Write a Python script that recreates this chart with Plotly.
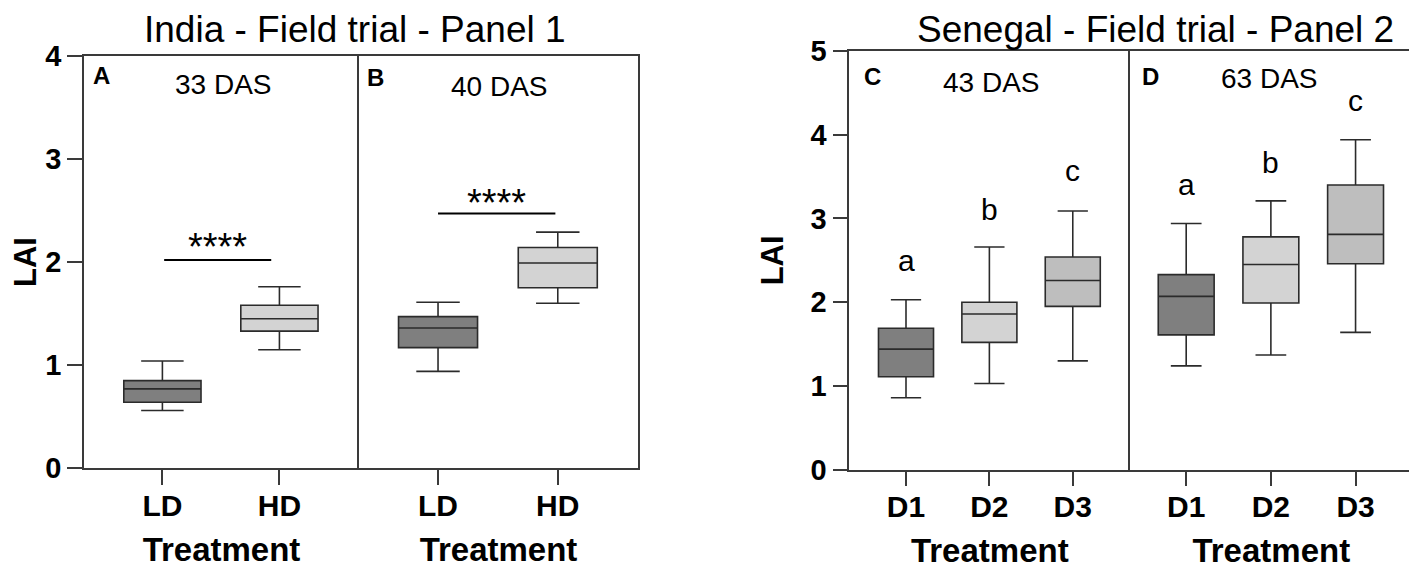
import plotly.graph_objects as go

# LAI box summaries (whisker low, Q1, median, Q3, whisker high)
india_groups = ["LD", "HD"]
a_low = [0.56, 1.15]
a_q1 = [0.64, 1.33]
a_med = [0.77, 1.45]
a_q3 = [0.85, 1.58]
a_high = [1.04, 1.76]

b_low = [0.94, 1.60]
b_q1 = [1.17, 1.75]
b_med = [1.36, 1.99]
b_q3 = [1.47, 2.14]
b_high = [1.61, 2.29]

senegal_groups = ["D1", "D2", "D3"]
c_low = [0.86, 1.03, 1.30]
c_q1 = [1.11, 1.52, 1.95]
c_med = [1.44, 1.86, 2.26]
c_q3 = [1.69, 2.00, 2.54]
c_high = [2.03, 2.66, 3.09]

d_low = [1.24, 1.37, 1.64]
d_q1 = [1.61, 1.99, 2.46]
d_med = [2.07, 2.45, 2.81]
d_q3 = [2.33, 2.78, 3.40]
d_high = [2.94, 3.21, 3.94]

# significance / letter labels
sig_text = ["****", "****"]
sig_bar_y = [2.02, 2.47]
sig_text_y = [2.15, 2.57]
letters = ["a", "b", "c"]
c_letter_y = [2.50, 3.11, 3.57]
d_letter_y = [3.41, 3.67, 4.41]

panel_tags = ["A", "B", "C", "D"]
panel_days = ["33 DAS", "40 DAS", "43 DAS", "63 DAS"]

fill = {"LD": "#7f7f7f", "HD": "#d3d3d3", "D1": "#7f7f7f", "D2": "#d3d3d3", "D3": "#bebebe"}
edge = "#2b2b2b"
axcol = "#3a3a3a"
FONT = "Liberation Sans, Arial, sans-serif"

# page body has an 8px margin, so the figure is offset inside the window
OFF = 8
W, H = 1417 - OFF, 569 - OFF


def px_x(p):
    return (p - OFF) / W


def px_y(p):
    return 1 - (p - OFF) / H


fig = go.Figure()


def add_boxes(groups, lo, q1, med, q3, hi, ax):
    for i, g in enumerate(groups):
        fig.add_trace(go.Box(
            x=[g], lowerfence=[lo[i]], q1=[q1[i]], median=[med[i]], q3=[q3[i]], upperfence=[hi[i]],
            fillcolor=fill[g], line=dict(color=edge, width=1.6),
            width=0.66, whiskerwidth=0.55, boxpoints=False, showlegend=False,
            xaxis="x" + ax, yaxis="y" + ax,
        ))


add_boxes(india_groups, a_low, a_q1, a_med, a_q3, a_high, "")
add_boxes(india_groups, b_low, b_q1, b_med, b_q3, b_high, "2")
add_boxes(senegal_groups, c_low, c_q1, c_med, c_q3, c_high, "3")
add_boxes(senegal_groups, d_low, d_q1, d_med, d_q3, d_high, "4")


def xaxis(dom, cats, rng, anchor):
    return dict(
        domain=dom, anchor=anchor, type="category", categoryorder="array", categoryarray=cats,
        range=rng, showline=True, mirror=True, linecolor=axcol, linewidth=1.5,
        ticks="outside", ticklen=15, tickwidth=1.5, tickcolor=axcol, ticklabelstandoff=-5,
        tickfont=dict(family=FONT, size=30, color="black", weight="bold"),
        title=dict(text="Treatment", font=dict(family=FONT, size=33, color="black", weight="bold"), standoff=17),
        showgrid=False, zeroline=False, fixedrange=True, automargin=False,
    )


def yaxis(dom, rng, anchor, labelled):
    d = dict(
        domain=dom, anchor=anchor, range=rng, showline=True,
        linecolor=axcol, linewidth=1.5, showgrid=False, zeroline=False, fixedrange=True,
        automargin=False,
    )
    if labelled:
        d.update(
            mirror=False,
            ticks="outside", ticklen=15, tickwidth=1.5, tickcolor=axcol, dtick=1, tick0=0,
            tickfont=dict(family=FONT, size=29, color="black", weight="bold"),
            title=dict(text="LAI", font=dict(family=FONT, size=31, color="black", weight="bold"), standoff=18),
        )
    else:
        d.update(mirror=True, ticks="", showticklabels=False)
    return d


left_y = [px_y(468.3), px_y(55.7)]
right_y = [px_y(469.7), px_y(51)]

fig.update_layout(
    width=W, height=H, margin=dict(l=0, r=0, t=0, b=0, autoexpand=False),
    paper_bgcolor="white", plot_bgcolor="white", showlegend=False,
    font=dict(family=FONT, color="black"),
    boxmode="overlay",
    xaxis=xaxis([px_x(84), px_x(359)], india_groups, [-0.67, 1.68], "y"),
    xaxis2=xaxis([px_x(359), px_x(638)], india_groups, [-0.66, 1.67], "y2"),
    xaxis3=xaxis([px_x(849.3), px_x(1130.3)], senegal_groups, [-0.68, 2.69], "y3"),
    xaxis4=xaxis([px_x(1130.3), px_x(1412.3)], senegal_groups, [-0.66, 2.67], "y4"),
    yaxis=yaxis(left_y, [0, 4], "x", True),
    yaxis2=yaxis(left_y, [0, 4], "x2", False),
    yaxis3=yaxis(right_y, [0, 5], "x3", True),
    yaxis4=yaxis(right_y, [0, 5], "x4", False),
)

# significance bars (panel 1)
for k, (ax, x0, x1) in enumerate([("", 0.015, 0.93), ("2", 0.0, 0.98)]):
    fig.add_shape(type="line", xref="x" + ax, yref="y" + ax, x0=x0, x1=x1,
                  y0=sig_bar_y[k], y1=sig_bar_y[k], line=dict(color="black", width=2))
    fig.add_annotation(xref="x" + ax, yref="y" + ax, x=(x0 + x1) / 2, y=sig_text_y[k],
                       text=sig_text[k], showarrow=False, font=dict(size=38, color="black"))

# letters (panel 2)
for ax, ys in [("3", c_letter_y), ("4", d_letter_y)]:
    for i, g in enumerate(senegal_groups):
        fig.add_annotation(xref="x" + ax, yref="y" + ax, x=i, y=ys[i], text=letters[i],
                           showarrow=False, font=dict(size=30, color="black"))

# panel tags and day labels
tag_pos = [(0.024, 0.953), (0.0215, 0.947), (0.044, 0.939), (0.034, 0.939)]
day_pos = [(0.507, 0.929), (0.505, 0.925), (0.507, 0.925), (0.495, 0.935)]
for k, ax in enumerate(["", "2", "3", "4"]):
    fig.add_annotation(xref="x" + ax + " domain", yref="y" + ax + " domain",
                       x=tag_pos[k][0], y=tag_pos[k][1], xanchor="left", yanchor="middle",
                       text="<b>" + panel_tags[k] + "</b>", showarrow=False,
                       font=dict(size=24, color="black"))
    fig.add_annotation(xref="x" + ax + " domain", yref="y" + ax + " domain",
                       x=day_pos[k][0], y=day_pos[k][1], xanchor="center", yanchor="middle",
                       text=panel_days[k], showarrow=False, font=dict(size=28, color="black"))

# panel titles (kept inside the figure so their text box is not clipped at the top)
fig.add_annotation(xref="paper", yref="paper", x=px_x(355), y=px_y(29), text="India - Field trial - Panel 1",
                   showarrow=False, xanchor="center", yanchor="middle", font=dict(size=37, color="black"))
fig.add_annotation(xref="paper", yref="paper", x=px_x(1155), y=px_y(29), text="Senegal - Field trial - Panel 2",
                   showarrow=False, xanchor="center", yanchor="middle", font=dict(size=37, color="black"))

fig.write_html("out.html")
